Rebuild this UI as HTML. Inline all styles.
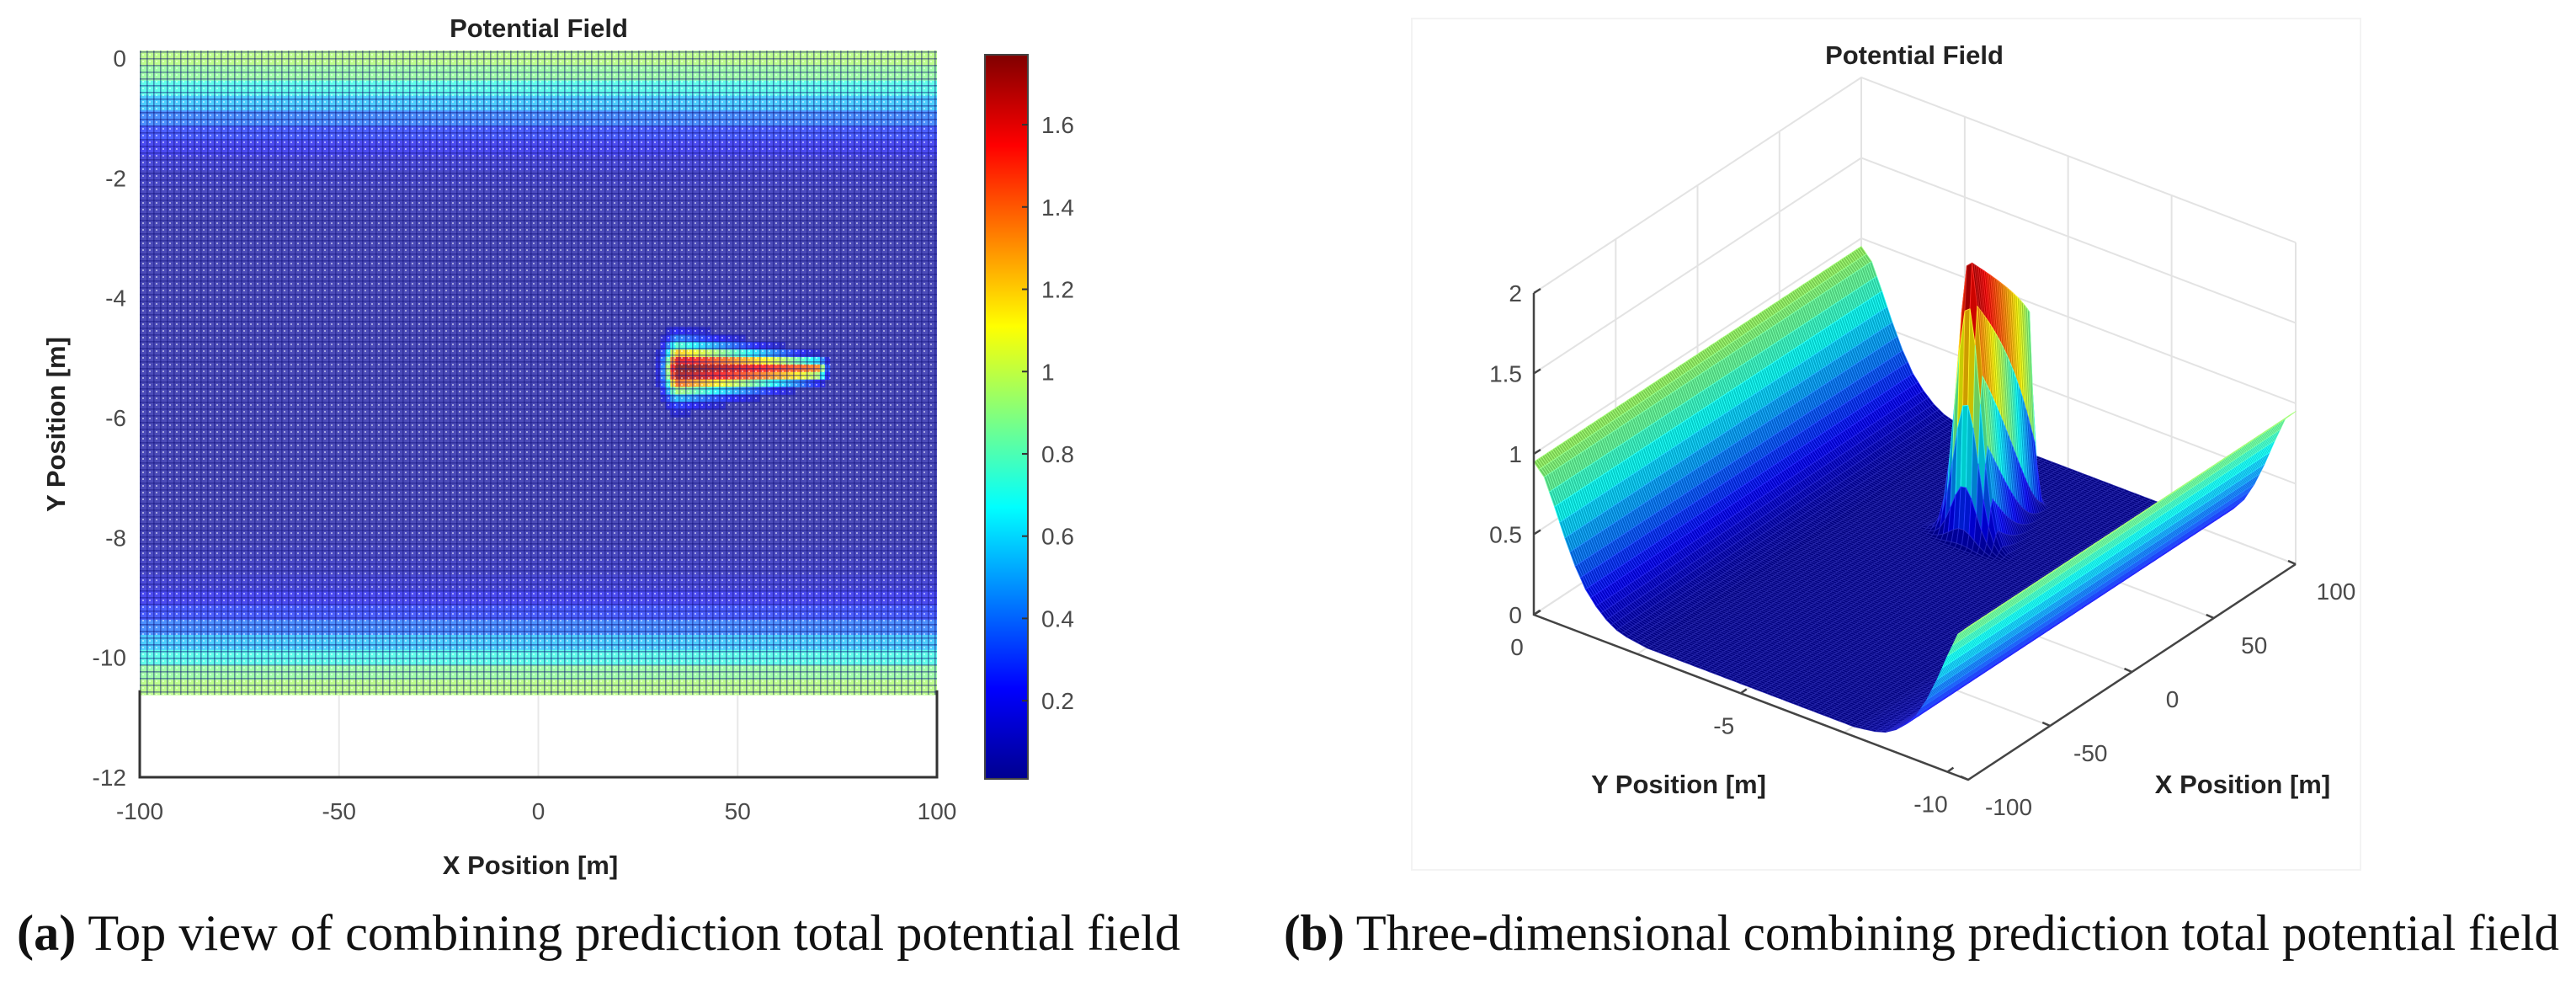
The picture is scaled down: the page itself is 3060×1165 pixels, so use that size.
<!DOCTYPE html>
<html><head><meta charset="utf-8"><style>
html,body{margin:0;padding:0;background:#fff;}
svg{display:block;}
.tk{font-family:"Liberation Sans",sans-serif;font-size:28px;fill:#4a4a4a;}
.lb{font-family:"Liberation Sans",sans-serif;font-size:31px;font-weight:bold;fill:#222;}
.cap{font-family:"Liberation Serif",serif;font-size:60px;fill:#111;}
</style></head><body>
<svg id="fig" width="3060" height="1165" viewBox="0 0 3060 1165" xmlns="http://www.w3.org/2000/svg">
<defs>
<pattern id="mesh" width="8" height="8" patternUnits="userSpaceOnUse" x="166" y="61">
<rect x="0" y="0" width="8" height="1.6" fill="#10107a" opacity="0.45"/>
<rect x="0" y="0" width="1.6" height="8" fill="#10107a" opacity="0.45"/>
<rect x="3" y="3" width="2" height="2" fill="#fff" opacity="0.5"/>
</pattern>
<linearGradient id="jetgrad" x1="0" y1="1" x2="0" y2="0">
<stop offset="0" stop-color="#00008f"/><stop offset="0.125" stop-color="#0000ff"/>
<stop offset="0.375" stop-color="#00ffff"/><stop offset="0.625" stop-color="#ffff00"/>
<stop offset="0.875" stop-color="#ff0000"/><stop offset="1" stop-color="#800000"/>
</linearGradient>
</defs>
<g id="left"></g>
<g id="right"></g>
<text class="cap" x="20" y="1128" textLength="1382" lengthAdjust="spacingAndGlyphs"><tspan font-weight="bold">(a)</tspan> Top view of combining prediction total potential field</text>
<text class="cap" x="1525" y="1128" textLength="1515" lengthAdjust="spacingAndGlyphs"><tspan font-weight="bold">(b)</tspan> Three-dimensional combining prediction total potential field</text>
</svg>
<script>
// ---- data ----
const yRowValues = [0.95,0.88,0.72,0.55,0.40,0.28,0.20,0.14,0.10,0.08,0.07,0.06,0.06,0.06,0.06,0.06,0.06,0.06,0.06,0.06,0.06,0.06,0.06,0.06,0.06,0.06,0.06,0.06,0.06,0.06,0.06,0.06,0.07,0.08,0.10,0.14,0.20,0.28,0.40,0.55,0.72,0.88,0.95];
const yRowStep = 0.25;
const blobXRange = [35, 70];
const blobCenterY = -5.2;
const blobPeak = 1.76;
const blobHalfWidth = [0.42, 0.16];
const xTicks = [-100,-50,0,50,100];
const yTicks = [0,-2,-4,-6,-8,-10,-12];
const cbTicks = [0.2,0.4,0.6,0.8,1,1.2,1.4,1.6];
const zTicks = [0,0.5,1,1.5,2];
const y3Ticks = [0,-5,-10];
const x3Ticks = [-100,-50,0,50,100];
const cRange = [0.01, 1.77];

const NS = "http://www.w3.org/2000/svg";
function mk(tag, attrs, parent){const e=document.createElementNS(NS,tag);for(const k in attrs)e.setAttribute(k,attrs[k]);parent.appendChild(e);return e;}
function jet(v){let t=(v-cRange[0])/(cRange[1]-cRange[0]);t=Math.max(0,Math.min(1,t));
 const f=x=>Math.max(0,Math.min(1,x));
 const r=f(Math.min(4*t-1.5,-4*t+4.5)),g=f(Math.min(4*t-0.5,-4*t+3.5)),b=f(Math.min(4*t+0.5,-4*t+2.5));
 return [r*255|0,g*255|0,b*255|0];}
function rgb(c,k){k=k||1;return `rgb(${Math.min(255,c[0]*k)|0},${Math.min(255,c[1]*k)|0},${Math.min(255,c[2]*k)|0})`;}
function mixW(c,a){return [c[0]+(255-c[0])*a,c[1]+(255-c[1])*a,c[2]+(255-c[2])*a];}
function baseField(y){const fi=-y/yRowStep;const i=Math.max(0,Math.min(yRowValues.length-1,Math.floor(fi)));const j=Math.min(yRowValues.length-1,i+1);const t=Math.max(0,Math.min(1,fi-i));return yRowValues[i]*(1-t)+yRowValues[j]*t;}
function blob(x,y){const [x0,x1]=blobXRange;let along;
 if(x<x0) along=Math.exp(-Math.pow((x-x0)/3,2)); else if(x>x1) along=Math.exp(-Math.pow((x-x1)/2,2)); else along=1;
 const fr=Math.max(0,Math.min(1,(x-x0)/(x1-x0)));
 const w=blobHalfWidth[0]+(blobHalfWidth[1]-blobHalfWidth[0])*fr;
 return blobPeak*along*(1-0.25*fr)*Math.exp(-Math.pow((y-blobCenterY)/w,2));}

// ---- left: top view ----
const L=document.getElementById('left');
const xs=x=>166+(x+100)*(1113-166)/200;
const ys=y=>69+(-y)*(923-69)/12;
mk('text',{class:'lb',x:640,y:44,'text-anchor':'middle','font-size':28,},L).textContent='Potential Field';
for(const t of xTicks){const g=mk('line',{x1:xs(t),x2:xs(t),y1:ys(-10.6),y2:ys(-12),stroke:'#e8e8e8','stroke-width':2},L);
 
 }
const rows=mk('g',{},L);


yRowValues.forEach((v,i)=>{const yv=-i*yRowStep;
 const r=mk('rect',{x:xs(-100),y:ys(yv+yRowStep/2),width:xs(100)-xs(-100),height:ys(0)-ys(yRowStep)+0.5,fill:rgb(mixW(jet(v),0.3))},rows);
 
 });
for(let x=25;x<=80;x+=1.25){for(let y=-3.8;y>=-6.6;y-=0.125){const v=blob(x,y);if(v<0.06)continue;
 const c=mk('rect',{x:xs(x-0.625),y:ys(y+0.0625),width:xs(1.25)-xs(0)+0.4,height:ys(0)-ys(0.125)+0.4,fill:rgb(mixW(jet(baseField(y)+v),0.2))},rows);
 
 }}
mk('rect',{x:xs(-100),y:ys(0.125),width:xs(100)-xs(-100),height:ys(-10.5-0.125)-ys(0.125),fill:'url(#mesh)'},L);
mk('path',{d:`M${xs(-100)},${ys(-10.55)} V${ys(-12)} H${xs(100)} V${ys(-10.55)}`,fill:'none',stroke:'#333','stroke-width':3,},L);
xTicks.forEach(t=>{const e=mk('text',{class:'tk',x:xs(t),y:973,'text-anchor':'middle'},L);e.textContent=t;
 
 });
yTicks.forEach(t=>{const e=mk('text',{class:'tk',x:150,y:ys(t)+10,'text-anchor':'end'},L);e.textContent=t;
 
 });
mk('text',{class:'lb',x:630,y:1038,'text-anchor':'middle',},L).textContent='X Position [m]';
mk('text',{class:'lb',x:0,y:0,'text-anchor':'middle',transform:'translate(77,504) rotate(-90)',},L).textContent='Y Position [m]';
const cbY=v=>925-(v-cRange[0])/(cRange[1]-cRange[0])*(925-65);
mk('rect',{x:1170,y:65,width:51,height:860,fill:'url(#jetgrad)',stroke:'#444','stroke-width':2,},L);
cbTicks.forEach(t=>{mk('line',{x1:1214,x2:1221,y1:cbY(t),y2:cbY(t),stroke:'#333','stroke-width':2},L);
 const e=mk('text',{class:'tk',x:1237,y:cbY(t)+10},L);e.textContent=t;
 
 });

// ---- right: 3D view ----
const R=document.getElementById('right');
mk('rect',{x:1677,y:22,width:1127,height:1011,fill:'none',stroke:'#f3f3f3','stroke-width':2},R);
function P(x,y,z){const fx=(x+100)/200,fy=-y/10.5;return [1822+fx*389+fy*516,730-fx*256+fy*196-z*191];}
function pl(pts){return pts.map(p=>p[0].toFixed(1)+','+p[1].toFixed(1)).join(' ');}
mk('text',{class:'lb',x:2274,y:76,'text-anchor':'middle','font-size':28,},R).textContent='Potential Field';
const grid=mk('g',{stroke:'#e3e3e3','stroke-width':2,fill:'none'},R);


for(const z of zTicks){mk('polyline',{points:pl([P(-100,0,z),P(100,0,z),P(100,-10.5,z)])},grid);}
for(const x of x3Ticks){mk('polyline',{points:pl([P(x,-10.5,0),P(x,0,0),P(x,0,2)])},grid);}
for(const y of [0,-2.5,-5,-7.5,-10.5]){mk('polyline',{points:pl([P(-100,y,0),P(100,y,0),P(100,y,2)])},grid);}
// surface
const quads=[];const xsArr=[];for(let x=-100;x<=100.01;x+=1.25)xsArr.push(x);
const ysArr=[];for(let k=0;k<=84;k++)ysArr.push(-k*0.125);
const Z=(x,y)=>baseField(y)+blob(x,y);
for(let i=0;i<xsArr.length-1;i++)for(let j=0;j<ysArr.length-1;j++){
 const x0=xsArr[i],x1=xsArr[i+1],y0=ysArr[j],y1=ysArr[j+1];
 const pts=[P(x0,y0,Z(x0,y0)),P(x1,y0,Z(x1,y0)),P(x1,y1,Z(x1,y1)),P(x0,y1,Z(x0,y1))];
 const zc=(Z(x0,y0)+Z(x1,y0)+Z(x1,y1)+Z(x0,y1))/4;
 const d=P((x0+x1)/2,(y0+y1)/2,0)[1];
 quads.push({pts,zc,d});}
quads.sort((a,b)=>a.d-b.d);
const surf=mk('g',{},R);


for(const q of quads){const c=jet(q.zc);mk('polygon',{points:pl(q.pts),fill:rgb(c,0.8),stroke:rgb(mixW(c,0.15)),'stroke-width':0.9,'stroke-linejoin':'round'},surf);}
const ax=mk('g',{stroke:'#444','stroke-width':2.5,fill:'none'},R);


mk('polyline',{points:pl([P(-100,0,2),P(-100,0,0),P(-100,-10.5,0),P(100,-10.5,0)])},ax);
zTicks.forEach(z=>{const p=P(-100,0,z);mk('line',{x1:p[0],y1:p[1],x2:p[0]+8,y2:p[1]-5},ax);
 const e=mk('text',{class:'tk',x:p[0]-14,y:p[1]+10,'text-anchor':'end'},R);e.textContent=z;
 
 });
y3Ticks.forEach(y=>{const p=P(-100,y,0);mk('line',{x1:p[0],y1:p[1],x2:p[0]+7,y2:p[1]-5},ax);
 const e=mk('text',{class:'tk',x:p[0]-20,y:p[1]+48,'text-anchor':'middle'},R);e.textContent=y;
 
 });
x3Ticks.forEach(x=>{const p=P(x,-10.5,0);mk('line',{x1:p[0],y1:p[1],x2:p[0]-9,y2:p[1]-4},ax);
 const e=mk('text',{class:'tk',x:p[0]+48,y:p[1]+42,'text-anchor':'middle'},R);e.textContent=x;
 
 });
mk('text',{class:'lb',x:1994,y:942,'text-anchor':'middle',},R).textContent='Y Position [m]';
mk('text',{class:'lb',x:2664,y:942,'text-anchor':'middle',},R).textContent='X Position [m]';
</script>
</body></html>
